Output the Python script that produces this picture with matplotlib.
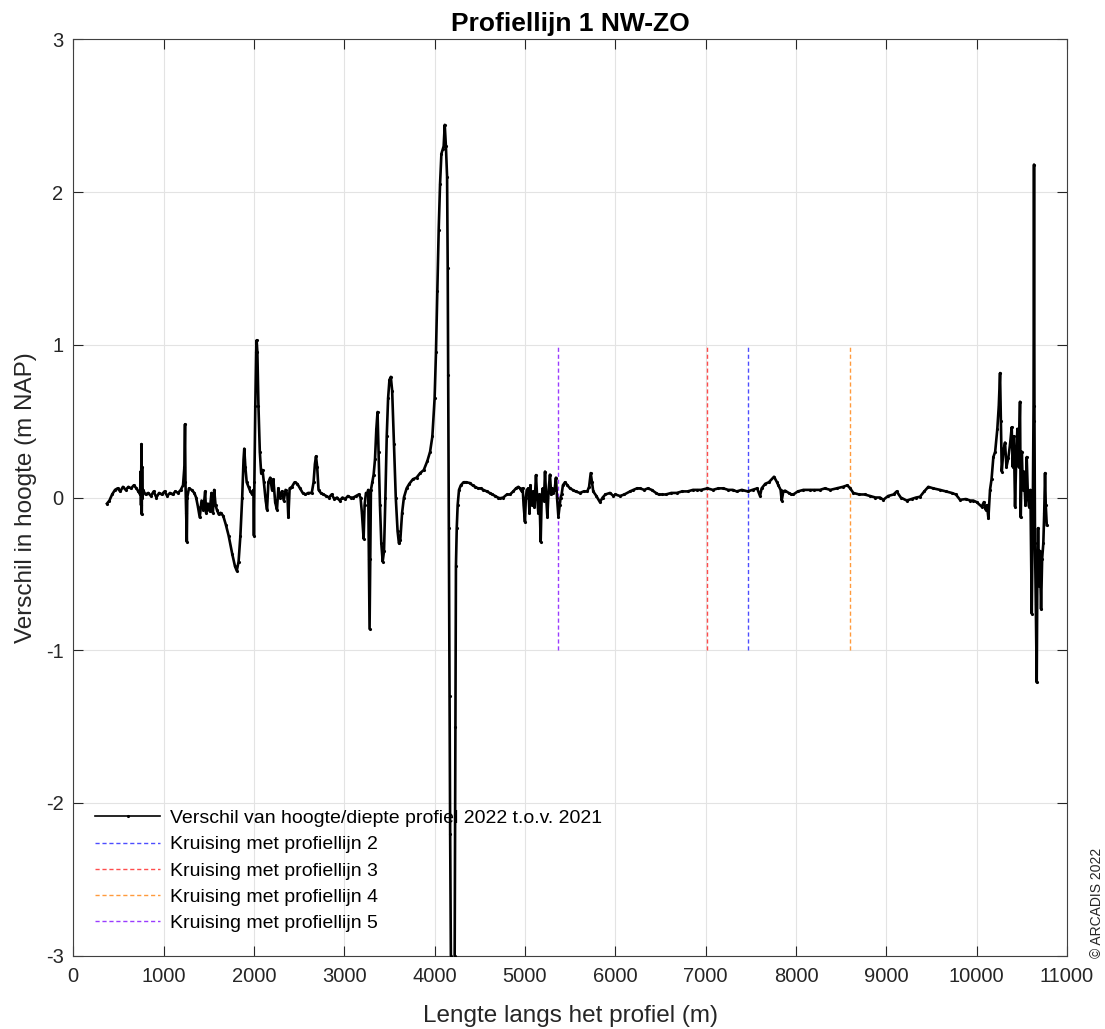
import matplotlib
matplotlib.use("Agg")
import matplotlib.pyplot as plt

# ---- data ----
dist_m = [
    373, 400, 430, 462, 490, 520, 550, 580, 610, 640, 670, 700, 720, 740, 745, 750, 755, 758, 762, 766,
    770, 800, 830, 860, 890, 920, 950, 980, 1010, 1040, 1070, 1100, 1130, 1160, 1190, 1215, 1230, 1237,
    1242, 1250, 1257, 1262, 1280, 1310, 1340, 1360, 1380, 1400, 1420, 1440, 1460, 1470, 1490, 1510, 1530,
    1545, 1560, 1575, 1590, 1610, 1630, 1660, 1690, 1720, 1760, 1790, 1810, 1830, 1850, 1870, 1885, 1893,
    1905, 1920, 1940, 1960, 1980, 1995, 2000, 2005, 2015, 2025, 2030, 2038, 2050, 2065, 2080, 2095, 2110,
    2130, 2145, 2160, 2180, 2200, 2215, 2235, 2255, 2270, 2290, 2310, 2330, 2350, 2370, 2381, 2395, 2420,
    2450, 2480, 2510, 2540, 2570, 2600, 2640, 2660, 2675, 2687, 2700, 2715, 2740,
    2770, 2800, 2830, 2860, 2890, 2920, 2950, 2980, 3010, 3040, 3070, 3100, 3130, 3160, 3180, 3195, 3214,
    3225, 3240, 3255, 3265, 3272, 3280, 3288, 3295, 3310, 3325, 3340, 3355, 3368, 3380, 3395, 3410, 3425,
    3440, 3455, 3470, 3485, 3500, 3515, 3530, 3550, 3570, 3590, 3605, 3620, 3640, 3660, 3690, 3720, 3760,
    3800, 3840, 3880, 3920, 3950, 3975, 4000, 4015, 4030, 4045, 4060, 4075, 4090, 4100, 4112, 4125, 4138,
    4145, 4150, 4158, 4165, 4172, 4180, 4190, 4210, 4222, 4230, 4236, 4245, 4255, 4270, 4290, 4320, 4350,
    4389, 4420, 4450, 4480, 4510, 4540, 4578, 4610, 4640, 4670, 4700, 4724, 4760, 4800, 4834, 4870, 4900,
    4927, 4945, 4964, 4975, 4985, 5000, 5010, 5020, 5037, 5050, 5060, 5074, 5090, 5105, 5122, 5135, 5148,
    5160, 5174, 5185, 5196, 5210, 5222, 5235, 5248, 5262, 5277, 5290, 5300, 5314, 5328, 5343, 5355, 5370,
    5385, 5395, 5406, 5420, 5443, 5470, 5498, 5530, 5560, 5609, 5650, 5690, 5710, 5728, 5742, 5756, 5790,
    5830, 5860, 5890, 5941, 5980, 6000, 6052, 6100, 6163, 6200, 6240, 6274, 6320, 6360, 6403, 6450, 6480,
    6514, 6560, 6620, 6680, 6740, 6800, 6860, 6901, 6950, 7019, 7080, 7140, 7196, 7250, 7300, 7344, 7400,
    7466, 7520, 7570, 7602, 7620, 7660, 7700, 7757, 7790, 7805, 7830, 7842, 7860, 7879, 7920, 7950, 7971,
    8020, 8082, 8150, 8200, 8266, 8320, 8380, 8451, 8520, 8569, 8600, 8635, 8700, 8760, 8820, 8880, 8930,
    8967, 9020, 9080, 9115, 9160, 9226, 9280, 9330, 9373, 9420, 9465, 9520, 9595, 9660, 9724, 9770, 9816,
    9880, 9930, 9963, 10000, 10056, 10080, 10100, 10115, 10130, 10148, 10165, 10185, 10205, 10229, 10245,
    10259, 10268, 10278, 10295, 10314, 10330, 10351, 10370, 10388, 10400, 10412, 10425, 10440, 10451,
    10465, 10480, 10488, 10500, 10512, 10524, 10540, 10554, 10568, 10580, 10595, 10610, 10620, 10630,
    10635, 10640, 10646, 10655, 10665, 10672, 10680, 10691, 10700, 10713, 10725, 10738, 10748, 10757,
    10765, 10776,
]
diff_m = [
    -0.04, -0.02, 0.02, 0.05, 0.06, 0.04, 0.07, 0.05, 0.07, 0.06, 0.08, 0.06, 0.04, 0.02, 0.17, -0.05, 0.35, -0.11, 0.20, 0.00,
    0.05, 0.02, 0.03, 0.01, 0.04, 0.00, 0.03, 0.02, 0.04, 0.01, 0.03, 0.02, 0.04, 0.03, 0.05, 0.08, 0.20, 0.48,
    0.10, -0.10, -0.29, 0.00, 0.06, 0.05, 0.03, 0.00, -0.06, -0.13, -0.02, -0.08, 0.04, -0.10, -0.04, -0.09, 0.03,
    -0.10, 0.05, -0.05, -0.08, -0.11, -0.10, -0.12, -0.18, -0.25, -0.37, -0.45, -0.48, -0.42, -0.25, 0.00, 0.25, 0.32,
    0.20, 0.10, 0.07, 0.04, 0.02, 0.05, -0.25, 0.10, 0.60, 0.95, 1.03, 0.95, 0.60, 0.30, 0.16, 0.18, 0.10,
    -0.02, -0.08, 0.10, 0.13, 0.05, 0.12, -0.03, -0.08, 0.06, 0.00, 0.04, -0.02, 0.05, 0.02, -0.13, 0.06, 0.07,
    0.10, 0.09, 0.06, 0.03, 0.02, 0.03, 0.03, 0.10, 0.22, 0.27, 0.20, 0.05, 0.03,
    0.02, 0.01, 0.00, 0.02, -0.01, 0.00, -0.02, 0.00, -0.01, 0.01, 0.00, 0.00, 0.01, 0.02, 0.00, -0.10, -0.27,
    -0.05, 0.03, 0.02, 0.05, -0.40, -0.86, -0.40, 0.05, 0.10, 0.15, 0.25, 0.45, 0.56, 0.30, -0.05, -0.30, -0.42,
    -0.35, 0.00, 0.40, 0.65, 0.77, 0.79, 0.70, 0.35, 0.00, -0.22, -0.30, -0.28, -0.10, 0.00, 0.06, 0.09, 0.12,
    0.13, 0.16, 0.18, 0.24, 0.30, 0.40, 0.65, 0.95, 1.35, 1.75, 2.05, 2.25, 2.28, 2.30, 2.44, 2.30, 2.10,
    1.50, 0.80, -0.20, -1.30, -2.20, -3.00, -3.60, -3.60, -3.00, -1.50, -0.45, -0.20, -0.05, 0.05, 0.08, 0.10, 0.10,
    0.095, 0.08, 0.07, 0.06, 0.06, 0.05, 0.04, 0.03, 0.02, 0.01, 0.00, -0.005, 0.00, 0.02, 0.02, 0.04, 0.06,
    0.07, 0.06, 0.04, 0.06, -0.05, -0.16, 0.00, 0.05, 0.06, -0.10, 0.08, -0.05, 0.04, -0.06, 0.147, 0.00, -0.10,
    0.02, -0.29, 0.00, 0.06, -0.02, 0.17, 0.00, -0.125, 0.05, 0.15, 0.02, 0.06, 0.03, 0.05, 0.13, 0.00, -0.125,
    -0.05, 0.00, 0.02, 0.08, 0.10, 0.08, 0.06, 0.05, 0.04, 0.03, 0.04, 0.04, 0.07, 0.16, 0.10, 0.04, 0.01,
    -0.03, 0.00, 0.02, 0.03, 0.01, 0.02, 0.01, 0.02, 0.04, 0.05, 0.06, 0.06, 0.05, 0.06, 0.05, 0.03, 0.02,
    0.02, 0.02, 0.03, 0.03, 0.04, 0.04, 0.05, 0.05, 0.05, 0.06, 0.05, 0.06, 0.06, 0.05, 0.05, 0.04, 0.05,
    0.04, 0.05, 0.06, 0.01, 0.06, 0.09, 0.10, 0.136, 0.10, 0.08, 0.05, -0.02, 0.04, 0.045, 0.03, 0.02, 0.02,
    0.04, 0.05, 0.05, 0.05, 0.05, 0.06, 0.05, 0.06, 0.07, 0.08, 0.06, 0.03, 0.02, 0.02, 0.01, 0.00, 0.00,
    -0.015, 0.01, 0.02, 0.04, 0.00, -0.02, -0.01, 0.00, 0.005, 0.04, 0.07, 0.06, 0.05, 0.04, 0.03, 0.02, -0.015,
    -0.01, -0.02, -0.02, -0.03, -0.06, -0.03, -0.08, -0.05, -0.136, 0.05, 0.12, 0.265, 0.30, 0.45, 0.60,
    0.815, 0.50, 0.17, 0.30, 0.36, 0.20, 0.26, 0.35, 0.46, 0.20, 0.40, -0.06, 0.30, 0.45,
    0.20, 0.627, -0.13, 0.30, 0.05, 0.17, -0.05, 0.265, 0.00, -0.06, 0.05, -0.76, -0.20, 0.60,
    2.18, 0.50, -0.30, -0.70, -1.21, -0.50, -0.20, -0.58, -0.35, -0.73, -0.40, -0.30, -0.10, 0.16,
    -0.05, -0.18,
]
crossing_m = [7466, 7019, 8598, 5370]
crossing_labels = ["Kruising met profiellijn 2", "Kruising met profiellijn 3",
                   "Kruising met profiellijn 4", "Kruising met profiellijn 5"]
crossing_range = [-1, 1]
main_label = "Verschil van hoogte/diepte profiel 2022 t.o.v. 2021"
x_ticks = list(range(0, 11001, 1000))
y_ticks = [-3, -2, -1, 0, 1, 2, 3]

# ---- styling ----
plt.rcParams['font.family'] = ['Liberation Sans', 'DejaVu Sans']
txt = '#262626'
cross_colors = ['#4d4dff', '#ff4d4d', '#ff9a3c', '#9a3cff']

fig = plt.figure(figsize=(11.05, 10.29), dpi=100)
ax = fig.add_axes([0.0663, 0.0712, 0.8993, 0.8906])

ax.plot(dist_m, diff_m, color='black', lw=1.9, marker='.', markersize=2.5,
        label=main_label, zorder=3)
for xc, lab, col in zip(crossing_m, crossing_labels, cross_colors):
    ax.plot([xc, xc], crossing_range, color=col, lw=1.0, ls=(0, (3, 2)), label=lab, zorder=2)

ax.set_xlim(x_ticks[0], x_ticks[-1])
ax.set_ylim(y_ticks[0], y_ticks[-1])
ax.set_xticks(x_ticks)
ax.set_yticks(y_ticks)
ax.set_xticklabels([str(v) for v in x_ticks])
ax.set_yticklabels([str(v) for v in y_ticks])
ax.grid(True, color='#e3e3e3', lw=0.8)
ax.set_axisbelow(True)
ax.tick_params(direction='in', length=7, width=0.8, colors=txt, labelsize=14.5,
               top=True, right=True)
ax.tick_params(axis='x', pad=8)
ax.tick_params(axis='y', pad=7)
for s in ax.spines.values():
    s.set_color('#404040')
    s.set_linewidth(0.8)

ax.set_xlabel("Lengte langs het profiel (m)", fontsize=17.5, color=txt, labelpad=14)
ax.set_ylabel("Verschil in hoogte (m NAP)", fontsize=17.5, color=txt, labelpad=6)
ax.set_title("Profiellijn 1 NW-ZO", fontsize=19, fontweight='bold', color='black', pad=6)

handles, labels = ax.get_legend_handles_labels()
leg = ax.legend(handles, labels, loc='lower left', bbox_to_anchor=(0.022, 0.026),
                frameon=False, fontsize=14, handlelength=3.35, handletextpad=0.5,
                labelspacing=0.44, borderpad=0, borderaxespad=0, numpoints=1)
leg.get_lines()[0].set_linewidth(1.2)

fig.text(1097 / 1105, (1029 - 903) / 1029, "\u00a9 ARCADIS 2022", rotation=90,
         ha='center', va='center', fontsize=10, color=txt)

fig.savefig("out.png", dpi=100)
